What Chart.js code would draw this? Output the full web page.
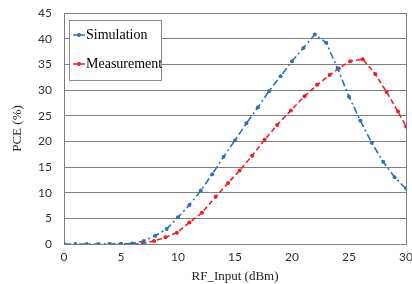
<!DOCTYPE html>
<html>
<head>
<meta charset="utf-8">
<title>PCE vs RF_Input</title>
<script src="https://cdn.jsdelivr.net/npm/chart.js@4.4.0/dist/chart.umd.min.js"></script>
<style>
  html, body { margin: 0; padding: 0; background: #ffffff; }
  #wrap { width: 412px; height: 284px; position: relative; }
</style>
</head>
<body>
<div id="wrap"><canvas id="pce"></canvas></div>
<script>
// Simulation: one point per dBm
const simInput = [0, 1, 2, 3, 4, 5, 6, 7, 8, 9, 10, 11, 12, 13, 14, 15, 16, 17, 18, 19, 20, 21, 22, 23, 24, 25, 26, 27, 28, 29, 30];
const simPce = [0, 0, 0, 0, 0, 0, 0.1, 0.6, 1.6, 2.9, 5.2, 7.6, 10.4, 13.6, 17.0, 20.2, 23.5, 26.6, 29.8, 32.7, 35.6, 38.2, 40.8, 39.2, 34.2, 28.7, 24.0, 19.7, 16.0, 13.0, 10.8];

const measInput = [4, 5, 5.95, 6.9, 7.9, 8.9, 9.9, 11.0, 12.1, 13.3, 14.4, 15.4, 16.5, 17.6, 18.7, 19.9, 21.1, 22.2, 23.3, 24.1, 25.1, 26.2, 27.3, 28.3, 29.3, 30];
const measPce = [0, 0, 0, 0.05, 0.6, 1.3, 2.2, 4.2, 6.1, 9.2, 11.9, 14.3, 17.2, 20.3, 23.2, 26.0, 28.8, 31.0, 32.9, 34.2, 35.6, 36.0, 33.1, 29.6, 25.8, 22.9];

const seriesNames = ['Simulation', 'Measurement'];
const xTitle = 'RF_Input (dBm)';
const yTitle = 'PCE (%)';

const blue = '#2a72b8';
const red = '#ee1c25';
const gridGray = '#7f7f7f';

const toPoints = (xs, ys) => xs.map((x, i) => ({ x: x, y: ys[i] }));

// legend box drawn inside the plot, top left
const boxLegend = {
  id: 'boxLegend',
  afterDraw(chart) {
    const ctx = chart.ctx;
    const left = chart.chartArea.left + 5;
    const top = chart.chartArea.top + 7;
    ctx.save();
    ctx.fillStyle = '#ffffff';
    ctx.fillRect(left, top, 92, 60);
    ctx.strokeStyle = '#8c8c8c';
    ctx.lineWidth = 1;
    ctx.strokeRect(left + 0.5, top + 0.5, 92, 60);
    chart.data.datasets.forEach((ds, i) => {
      const y = top + 15 + i * 29;
      ctx.strokeStyle = ds.borderColor;
      ctx.lineWidth = 1.5;
      ctx.beginPath();
      ctx.moveTo(left + 4, y);
      ctx.lineTo(left + 16, y);
      ctx.stroke();
      ctx.fillStyle = ds.borderColor;
      ctx.beginPath();
      ctx.arc(left + 10, y, 2, 0, Math.PI * 2);
      ctx.fill();
      ctx.fillStyle = '#000000';
      ctx.font = '14px "Liberation Serif"';
      ctx.textBaseline = 'middle';
      ctx.fillText(ds.label, left + 17, y);
    });
    ctx.restore();
  }
};

new Chart(document.getElementById('pce'), {
  type: 'line',
  data: {
    datasets: [
      {
        label: seriesNames[0],
        data: toPoints(simInput, simPce),
        borderColor: blue,
        backgroundColor: blue,
        borderWidth: 1.6,
        borderDash: [7, 3, 2, 3],
        pointRadius: 2,
        pointBorderWidth: 0,
        pointBackgroundColor: blue,
        tension: 0
      },
      {
        label: seriesNames[1],
        data: toPoints(measInput, measPce),
        borderColor: red,
        backgroundColor: red,
        borderWidth: 1.6,
        borderDash: [5, 3],
        pointRadius: 2,
        pointBorderWidth: 0,
        pointBackgroundColor: red,
        tension: 0
      }
    ]
  },
  options: {
    responsive: true,
    maintainAspectRatio: false,
    animation: false,
    layout: { padding: { top: 13, right: 6, left: 0, bottom: 0 } },
    plugins: {
      legend: { display: false },
      tooltip: { enabled: false }
    },
    scales: {
      x: {
        type: 'linear',
        min: 0,
        max: 30,
        ticks: {
          stepSize: 5,
          padding: 6,
          color: '#333333',
          font: { family: 'Lato', size: 12 }
        },
        grid: {
          drawTicks: false,
          color: (c) => (c.tick && c.tick.value === 30 ? gridGray : 'rgba(0,0,0,0)')
        },
        border: { display: true, color: gridGray, width: 1 },
        title: {
          display: true,
          text: xTitle,
          color: '#222222',
          font: { family: 'Liberation Serif', size: 13 },
          padding: { top: 0, bottom: 0 }
        },
        afterFit: (scale) => {
          scale.height = 40;
          scale.paddingLeft = 0;
          scale.paddingRight = 0;
        }
      },
      y: {
        min: 0,
        max: 45,
        ticks: {
          stepSize: 5,
          padding: 12,
          color: '#333333',
          font: { family: 'Lato', size: 12 }
        },
        grid: { drawTicks: false, color: gridGray, lineWidth: 1 },
        border: { display: true, color: gridGray, width: 1 },
        title: {
          display: true,
          text: yTitle,
          color: '#222222',
          font: { family: 'Liberation Serif', size: 13 },
          padding: { top: 10, bottom: 0 }
        },
        afterFit: (scale) => {
          scale.width = 64;
          scale.paddingTop = 0;
          scale.paddingBottom = 0;
        }
      }
    }
  },
  plugins: [boxLegend]
});
</script>
</body>
</html>
